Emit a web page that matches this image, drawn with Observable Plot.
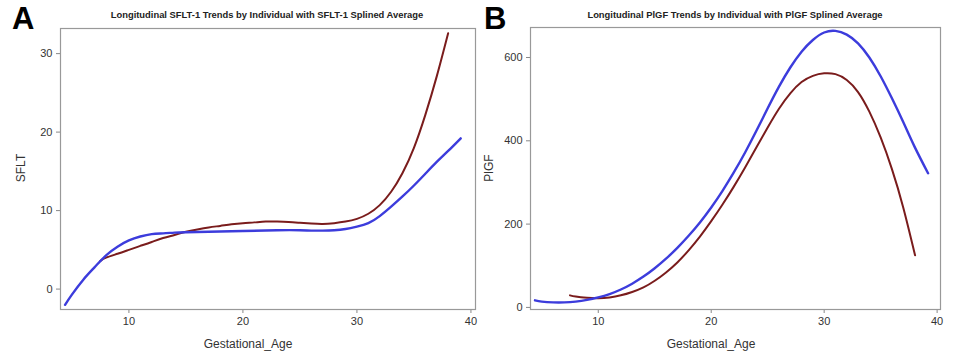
<!DOCTYPE html>
<html>
<head>
<meta charset="utf-8">
<script src="https://cdn.jsdelivr.net/npm/d3@7"></script>
<script src="https://cdn.jsdelivr.net/npm/@observablehq/plot@0.6"></script>
<style>
  html, body { margin: 0; padding: 0; background: #fff; }
  #wrap { position: relative; width: 961px; height: 358px; overflow: hidden; font-family: "Liberation Sans", Arial, sans-serif; }
  .panel { position: absolute; top: 0; }
  .title { position: absolute; font-weight: bold; font-size: 9.4px; color: #222; white-space: nowrap; transform: translateX(-50%); }
  .letter { position: absolute; font-weight: bold; font-size: 31px; color: #000; line-height: 1; }
  .xlab { position: absolute; font-size: 12px; color: #333; white-space: nowrap; transform: translateX(-50%); }
  .ylab { position: absolute; font-size: 12px; color: #333; white-space: nowrap; transform: translate(-50%, -50%) rotate(-90deg); }
</style>
</head>
<body>
<div id="wrap"></div>
<script>
// ---------- Panel A: sFLT-1 ----------
const ageA_ind  = [7.5, 8, 9, 10, 11, 12, 13, 14, 15, 16, 17, 18, 19, 20, 21, 22, 23, 24, 25, 26, 27, 28, 29, 30, 31, 32, 33, 34, 35, 36, 37, 38];
const sflt_ind  = [3.6, 4.0, 4.5, 5.0, 5.5, 6.0, 6.5, 6.9, 7.3, 7.6, 7.85, 8.05, 8.25, 8.4, 8.5, 8.6, 8.6, 8.55, 8.45, 8.35, 8.3, 8.4, 8.6, 8.95, 9.6, 10.7, 12.4, 14.8, 18.0, 22.2, 27.1, 32.6];
const ageA_avg  = [4.4, 5, 6, 7, 8, 9, 10, 11, 12, 13, 14, 15, 17, 20, 23, 25, 26, 27, 28, 29, 30, 31, 32, 33, 34, 35, 36, 37, 38, 39.1];
const sflt_avg  = [-2.0, -0.7, 1.2, 2.8, 4.3, 5.4, 6.2, 6.7, 7.0, 7.1, 7.2, 7.25, 7.3, 7.4, 7.5, 7.5, 7.45, 7.45, 7.5, 7.65, 7.95, 8.4, 9.3, 10.5, 11.8, 13.2, 14.7, 16.2, 17.6, 19.2];
const ticksA_x  = [10, 20, 30, 40];
const ticksA_y  = [0, 10, 20, 30];

// ---------- Panel B: PlGF ----------
const ageB_ind  = [7.5, 8, 9, 10, 11, 12, 13, 14, 15, 16, 17, 18, 19, 20, 21, 22, 23, 24, 25, 26, 27, 28, 29, 30, 31, 32, 33, 34, 35, 36, 37, 38.05];
const plgf_ind  = [29, 26, 23, 22, 24, 29, 37, 48, 64, 84, 108, 137, 170, 207, 247, 290, 336, 384, 432, 477, 514, 541, 556, 562, 560, 546, 517, 470, 408, 332, 240, 125];
const ageB_avg  = [4.4, 5, 6, 7, 8, 9, 10, 11, 12, 13, 14, 15, 16, 17, 18, 19, 20, 21, 22, 23, 24, 25, 26, 27, 28, 29, 30, 31, 32, 33, 34, 35, 36, 37, 38, 39.2];
const plgf_avg  = [17, 14, 12, 12, 14, 18, 24, 32, 43, 57, 74, 94, 117, 143, 172, 204, 240, 280, 324, 372, 424, 478, 530, 576, 614, 642, 660, 664, 655, 634, 600, 555, 502, 445, 386, 322];
const ticksB_x  = [10, 20, 30, 40];
const ticksB_y  = [0, 200, 400, 600];

const seriesColors = { individual: "#7a1c1c", average: "#3c3cdc" };

const toRows = (xs, ys) => xs.map((x, i) => ({ x, y: ys[i] }));

function panel({ xDomain, yDomain, xTicks, yTicks, ind, avg, width, marginLeft, marginRight, marginTop, marginBottom }) {
  return Plot.plot({
    width, height: 358,
    marginLeft, marginRight, marginTop, marginBottom,
    style: { fontFamily: "'Liberation Sans', Arial, sans-serif", fontSize: "11px", color: "#333", background: "transparent" },
    x: { domain: xDomain },
    y: { domain: yDomain },
    marks: [
      Plot.axisX({ ticks: xTicks, tickSize: 4, tickPadding: 4, label: null, stroke: "#888", fill: "#333", fontSize: 11 }),
      Plot.axisY({ ticks: yTicks, tickSize: 4, tickPadding: 4, label: null, stroke: "#888", fill: "#333", fontSize: 11 }),
      Plot.line(ind, { x: "x", y: "y", stroke: seriesColors.individual, strokeWidth: 2, curve: "natural" }),
      Plot.line(avg, { x: "x", y: "y", stroke: seriesColors.average, strokeWidth: 2.4, curve: "natural" }),
      Plot.frame({ stroke: "#999", strokeWidth: 1.2 })
    ]
  });
}

const wrap = document.getElementById("wrap");

const plotA = panel({
  xDomain: [4, 40.4], yDomain: [-2.6, 33.2], xTicks: ticksA_x, yTicks: ticksA_y,
  ind: toRows(ageA_ind, sflt_ind), avg: toRows(ageA_avg, sflt_avg),
  width: 480, marginLeft: 60, marginRight: 5, marginTop: 28, marginBottom: 49
});
plotA.classList.add("panel"); plotA.style.left = "0px";
wrap.appendChild(plotA);

const plotB = panel({
  xDomain: [4, 40.3], yDomain: [-5, 672], xTicks: ticksB_x, yTicks: ticksB_y,
  ind: toRows(ageB_ind, plgf_ind), avg: toRows(ageB_avg, plgf_avg),
  width: 481, marginLeft: 50, marginRight: 21, marginTop: 27, marginBottom: 49
});
plotB.classList.add("panel"); plotB.style.left = "480px";
wrap.appendChild(plotB);

function addText(cls, text, left, top) {
  const d = document.createElement("div");
  d.className = cls; d.textContent = text;
  d.style.left = left + "px"; d.style.top = top + "px";
  wrap.appendChild(d);
}
addText("letter", "A", 12, 3);
addText("letter", "B", 484, 3);
addText("title", "Longitudinal SFLT-1 Trends by Individual with SFLT-1 Splined Average", 267, 9);
addText("title", "Longitudinal PlGF Trends by Individual with PlGF Splined Average", 735, 9);
addText("xlab", "Gestational_Age", 248, 337);
addText("xlab", "Gestational_Age", 711, 337);
addText("ylab", "SFLT", 21, 168);
addText("ylab", "PlGF", 489, 168);
</script>
</body>
</html>
